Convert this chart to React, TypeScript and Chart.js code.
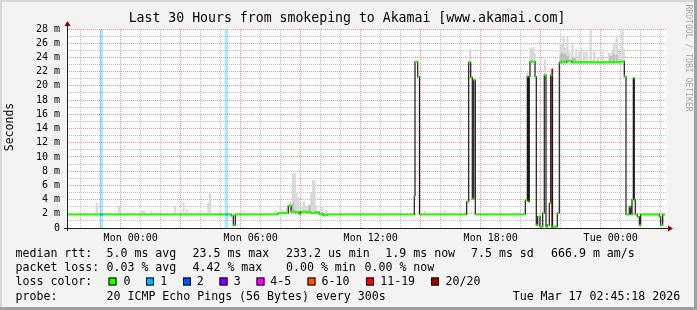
import { useEffect, useRef } from "react";
import { Chart, registerables } from "chart.js";

Chart.register(...registerables);

const TITLE = "Last 30 Hours from smokeping to Akamai [www.akamai.com]";
const Y_LABEL = "Seconds";
const WATERMARK = "RRDTOOL / TOBI OETIKER";

// hours relative to Mon 00:00
const X_MIN = -3.185;
const X_MAX = 26.815;
const xTickHours = [-3, -2, -1, 0, 1, 2, 3, 4, 5, 6, 7, 8, 9, 10, 11, 12, 13, 14, 15, 16, 17, 18, 19, 20, 21, 22, 23, 24, 25, 26];
const xTickLabels: Record<number, string> = { 0: "Mon 00:00", 6: "Mon 06:00", 12: "Mon 12:00", 18: "Mon 18:00", 24: "Tue 00:00" };
const yTicks = [0, 1, 2, 3, 4, 5, 6, 7, 8, 9, 10, 11, 12, 13, 14, 15, 16, 17, 18, 19, 20, 21, 22, 23, 24, 25, 26, 27, 28];

// median rtt (ms), as steps: value holds from its time until the next time
const medianTimes = [
  -3.185, -1.535, -1.4, 4.715, 4.85, 5.05, 5.13, 5.23, 7.365, 7.88, 8.015, 8.265, 8.415, 8.49, 8.815, 9.015, 9.215,
  9.415, 9.615, 9.815, 14.18, 14.215, 14.35, 14.44, 16.8, 16.9, 17.0, 17.08, 17.15, 17.23, 19.73, 19.83, 19.88, 19.93,
  19.965, 20.215, 20.28, 20.35, 20.465, 20.6, 20.68, 20.765, 20.83, 20.93, 21.0, 21.08, 21.33, 21.43, 21.8, 22.05,
  24.465, 24.68, 24.765, 24.93, 25.0, 25.065, 25.13, 25.18, 25.23, 25.33, 25.43, 25.5, 26.43, 26.5, 26.6,
];
const medianValues = [
  1.9, 1.9, 1.9, 1.9, 1.9, 1.7, 0.4, 1.9, 2.1, 3.1, 2.3, 2.2, 2.0, 2.3, 2.2, 2.1, 2.2,
  2.0, 1.8, 1.9, 4.5, 23.4, 21.3, 1.9, 3.7, 23.3, 21.2, 4.1, 20.8, 1.9, 3.9, 21.3, 3.7, 21.3,
  23.4, 21.3, 0.4, 1.6, 0.2, 2.1, 21.5, 0.2, 0.4, 3.5, 21.5, 0.2, 2.1, 23.3, 23.5, 23.3,
  23.4, 21.3, 1.9, 3.0, 1.9, 4.0, 21.1, 4.0, 1.9, 1.6, 0.4, 1.9, 1.6, 0.4, 1.9,
];
const medianLoss = [
  0, 1, 0, 1, 0, 0, 0, 0, 0, 0, 0, 0, 0, 0, 0, 0, 0,
  0, 0, 0, 0, 0, 0, 0, 0, 0, 0, 0, 0, 0, 0, 0, 0, 0,
  0, 0, 0, 0, 0, 0, 0, 0, 0, 0, 0, 0, 0, 0, 0, 0,
  0, 0, 0, 0, 0, 0, 0, 0, 0, 0, 0, 0, 0, 0, 0,
];
const medianEnd = 26.715;

// smoke (individual ping spread) tops, ms
const smokeTimes = [
  -2.54, -1.7, -0.59, 0.57, 0.67, 1.02, 2.22, 2.64, 2.82, 3.42, 3.89, 3.97, 5.64, 6.55, 7.24, 7.49, 7.63, 7.79, 7.97,
  8.05, 8.12, 8.2, 8.29, 8.39, 8.54, 8.67, 8.79, 8.92, 9.02, 9.12, 9.19, 9.27, 9.42, 9.57, 9.77, 10.02, 11.63, 12.37,
  12.47, 14.72, 15.72, 16.69, 16.97, 18.8, 19.84, 19.99, 20.07, 20.14, 20.2, 20.72, 21.04, 21.5, 21.57, 21.64, 21.71,
  21.77, 21.84, 21.94, 22.09, 22.26, 22.42, 22.52, 22.67, 22.8, 23.0, 23.17, 23.34, 23.59, 23.92, 24.07, 24.17, 24.3,
  24.42, 24.59, 24.66,
];
const smokeTops = [
  2.3, 3.5, 3.1, 2.4, 2.4, 2.3, 3.1, 3.5, 2.6, 2.2, 3.5, 4.9, 2.4, 2.0, 2.4, 2.9, 2.5, 2.8, 3.6,
  3.0, 7.6, 7.7, 4.9, 4.3, 3.0, 3.7, 3.0, 3.2, 4.9, 6.7, 6.6, 3.0, 2.4, 3.0, 2.5, 2.1, 2.2, 2.1,
  2.1, 2.4, 2.4, 2.3, 25.1, 2.0, 21.8, 25.3, 25.1, 25.4, 24.5, 23.7, 22.3, 26.0, 26.0, 27.0, 25.3,
  25.3, 26.8, 24.8, 26.0, 25.1, 24.8, 25.3, 24.8, 24.8, 28.5, 24.8, 24.0, 24.8, 24.6, 25.1, 26.0, 26.9,
  25.1, 28.5, 25.1,
];
const darkSmokeTimes = [7.97, 8.05, 8.12, 8.94, 21.5, 21.57, 21.64, 21.71, 21.84, 22.12, 22.2, 24.0, 24.15, 24.3];
const darkSmokeTops = [3.3, 3.0, 3.5, 3.2, 24.4, 24.6, 24.3, 24.5, 24.2, 24.0, 23.9, 24.2, 24.4, 24.3];

// loss bars
const lossBandTimes = [-1.47, 4.78];
const fullLossTimes = [21.08];
const fullLossTops = [22.4];

const lossColors = ["#26ff00", "#00b8ff", "#0059ff", "#7e00ff", "#ff00ff", "#ff5500", "#ff0000", "#a10000"];
const lossLabels = ["0", "1", "2", "3", "4-5", "6-10", "11-19", "20/20"];

const rttLegend = ["5.0 ms avg", "23.5 ms max", "233.2 us min", "1.9 ms now", "7.5 ms sd", "666.9 m am/s"];
const lossLegend = ["0.03 % avg", "4.42 % max", "0.00 % min", "0.00 % now"];
const probeText = "20 ICMP Echo Pings (56 Bytes) every 300s";
const stampText = "Tue Mar 17 02:45:18 2026";

const MONO = "'DejaVu Sans Mono', monospace";
const MAJOR = "rgba(230,110,110,0.75)";
const MINOR = "rgba(150,150,150,0.6)";

function medianAt(t: number): number {
  let v = medianValues[0];
  for (let i = 0; i < medianTimes.length; i++) {
    if (medianTimes[i] <= t) v = medianValues[i];
  }
  return v;
}

const decor = {
  id: "rrdDecor",
  beforeDraw(chart: any) {
    const { ctx, chartArea: a } = chart;
    const W = chart.width, H = chart.height;
    ctx.save();
    ctx.fillStyle = "#f3f3f3";
    ctx.fillRect(0, 0, W, H);
    ctx.fillStyle = "#d6d6d6";
    ctx.fillRect(0, 0, W, 2);
    ctx.fillRect(0, 0, 2, H);
    ctx.fillStyle = "#a0a0a0";
    ctx.fillRect(0, H - 3, W, 3);
    ctx.fillRect(W - 3, 0, 3, H);
    ctx.fillStyle = "#ffffff";
    ctx.fillRect(a.left, a.top, a.right - a.left, a.bottom - a.top);
    ctx.restore();
  },
  afterDraw(chart: any) {
    const { ctx, chartArea: a } = chart;
    ctx.save();
    // axes
    ctx.strokeStyle = "#202020";
    ctx.lineWidth = 1;
    ctx.beginPath();
    ctx.moveTo(a.left - 3, a.bottom + 0.5);
    ctx.lineTo(a.right + 2, a.bottom + 0.5);
    ctx.moveTo(a.left + 0.5, a.bottom + 3);
    ctx.lineTo(a.left + 0.5, a.top - 4);
    ctx.stroke();
    ctx.fillStyle = "#8b0000";
    ctx.beginPath();
    ctx.moveTo(a.left - 2.5, a.top - 3);
    ctx.lineTo(a.left + 3.5, a.top - 3);
    ctx.lineTo(a.left + 0.5, a.top - 8);
    ctx.closePath();
    ctx.fill();
    ctx.beginPath();
    ctx.moveTo(a.right + 1, a.bottom - 2.5);
    ctx.lineTo(a.right + 1, a.bottom + 3.5);
    ctx.lineTo(a.right + 6, a.bottom + 0.5);
    ctx.closePath();
    ctx.fill();

    // title
    ctx.fillStyle = "#000";
    ctx.font = `13.2px ${MONO}`;
    ctx.textAlign = "center";
    ctx.textBaseline = "middle";
    ctx.fillText(TITLE, 347, 19);

    // y label
    ctx.save();
    ctx.font = `11.5px ${MONO}`;
    ctx.translate(10.5, 127);
    ctx.rotate(-Math.PI / 2);
    ctx.fillText(Y_LABEL, 0, 0);
    ctx.restore();

    // watermark
    ctx.save();
    ctx.font = `8.1px ${MONO}`;
    ctx.fillStyle = "#a8a8a8";
    ctx.textAlign = "left";
    ctx.translate(688, 4.5);
    ctx.rotate(Math.PI / 2);
    ctx.fillText(WATERMARK, 0, 0);
    ctx.restore();

    // legend
    ctx.font = `11.6px ${MONO}`;
    ctx.textAlign = "left";
    ctx.fillStyle = "#000";
    const r1 = 254, r2 = 268, r3 = 282, r4 = 296.5;
    ctx.fillText("median rtt:", 15.5, r1);
    const rttX = [106.5, 192.5, 286, 385.3, 471, 551];
    rttLegend.forEach((s, i) => ctx.fillText(s, rttX[i], r1));
    ctx.fillText("packet loss:", 15.5, r2);
    const lossX = [106.5, 192.5, 286, 364.5];
    lossLegend.forEach((s, i) => ctx.fillText(s, lossX[i], r2));
    ctx.fillText("loss color:", 15.5, r3);
    const sqX = [108.5, 146, 183, 219.5, 256.5, 307.5, 366, 431];
    const lbX = [123.5, 160.2, 196.8, 233.8, 270.2, 321.5, 380.2, 445.5];
    lossColors.forEach((c, i) => {
      ctx.fillStyle = c;
      ctx.fillRect(sqX[i], r3 - 4.5, 8, 8);
      ctx.strokeStyle = "#000";
      ctx.lineWidth = 1;
      ctx.strokeRect(sqX[i] + 0.5, r3 - 4, 7, 7);
      ctx.fillStyle = "#000";
      ctx.fillText(lossLabels[i], lbX[i], r3);
    });
    ctx.fillText("probe:", 15.5, r4);
    ctx.fillText(probeText, 106.5, r4);
    ctx.fillText(stampText, 512.7, r4);
    ctx.restore();
  },
};

export default function App() {
  const ref = useRef<HTMLCanvasElement | null>(null);
  useEffect(() => {
    if (!ref.current) return;

    const stepPts: any[] = medianTimes.map((t, i) => ({ x: t, y: medianValues[i] }));
    stepPts.push({ x: medianEnd, y: medianValues[medianValues.length - 1] });

    const segPts: any[] = [];
    const segColors: string[] = [];
    medianTimes.forEach((t, i) => {
      const end = i + 1 < medianTimes.length ? medianTimes[i + 1] : medianEnd;
      const c = lossColors[medianLoss[i]];
      segPts.push({ x: t, y: medianValues[i] });
      segColors.push(c);
      segPts.push({ x: end, y: medianValues[i] });
      segColors.push(c);
      segPts.push({ x: end, y: null });
      segColors.push(c);
    });

    const chart = new Chart(ref.current, {
      type: "line",
      data: {
        datasets: [
          {
            type: "bar",
            data: lossBandTimes.map((t) => ({ x: t, y: [0, 28] })),
            backgroundColor: "rgba(0,184,255,0.32)",
            borderWidth: 0,
            barThickness: 2.7,
            grouped: false,
            order: 7,
          } as any,
          {
            type: "bar",
            data: smokeTimes.map((t, i) => ({ x: t, y: [medianAt(t), smokeTops[i]] })),
            backgroundColor: "#d9d9d9",
            borderWidth: 0,
            barThickness: 1.6,
            grouped: false,
            order: 6,
          } as any,
          {
            type: "bar",
            data: darkSmokeTimes.map((t, i) => ({ x: t, y: [medianAt(t), darkSmokeTops[i]] })),
            backgroundColor: "#bdbdbd",
            borderWidth: 0,
            barThickness: 1.6,
            grouped: false,
            order: 5,
          } as any,
          {
            type: "bar",
            data: fullLossTimes.map((t, i) => ({ x: t, y: [0, fullLossTops[i]] })),
            backgroundColor: "#a10000",
            borderWidth: 0,
            barThickness: 1,
            grouped: false,
            order: 4,
          } as any,
          {
            type: "line",
            data: stepPts,
            stepped: true,
            borderColor: "#1a1a1a",
            borderWidth: 1.2,
            pointRadius: 0,
            fill: false,
            order: 2,
          } as any,
          {
            type: "line",
            data: segPts,
            borderColor: "#26ff00",
            borderWidth: 2.2,
            pointRadius: 0,
            spanGaps: false,
            fill: false,
            segment: {
              borderColor: (c: any) => segColors[c.p0DataIndex],
            },
            order: 1,
          } as any,
        ],
      },
      options: {
        animation: false,
        responsive: false,
        devicePixelRatio: 1,
        events: [],
        layout: { padding: { left: 0, top: 29, right: 30, bottom: 52 } },
        plugins: { legend: { display: false }, tooltip: { enabled: false }, title: { display: false } },
        scales: {
          x: {
            type: "linear",
            min: X_MIN,
            max: X_MAX,
            offset: false,
            afterBuildTicks: (s: any) => {
              s.ticks = xTickHours.map((v) => ({ value: v }));
            },
            afterFit: (s: any) => {
              s.height = 30;
            },
            grid: {
              color: (c: any) => (c.tick && c.tick.value % 3 === 0 ? MAJOR : MINOR),
              drawTicks: false,
              lineWidth: 1,
            },
            border: { display: false, dash: [1, 1] },
            ticks: {
              autoSkip: false,
              maxRotation: 0,
              minRotation: 0,
              padding: 4,
              color: "#000",
              font: { family: MONO, size: 10 },
              callback: (v: any) => xTickLabels[v as number] ?? "",
            },
          },
          y: {
            type: "linear",
            min: 0,
            max: 28,
            afterBuildTicks: (s: any) => {
              s.ticks = yTicks.map((v) => ({ value: v }));
            },
            afterFit: (s: any) => {
              s.width = 67;
            },
            grid: {
              color: (c: any) => (c.tick && c.tick.value % 2 === 0 ? MAJOR : MINOR),
              drawTicks: false,
              lineWidth: 1,
            },
            border: { display: false, dash: [1, 1] },
            ticks: {
              autoSkip: false,
              padding: 7,
              color: "#000",
              font: { family: MONO, size: 10 },
              callback: (v: any) => (v === 0 ? "0" : (v as number) % 2 === 0 ? `${v} m` : ""),
            },
          },
        },
      } as any,
      plugins: [decor],
    });
    return () => chart.destroy();
  }, []);

  return (
    <div style={{ position: "fixed", left: 0, top: 0, width: 697, height: 310 }}>
      <canvas ref={ref} width={697} height={310} style={{ width: 697, height: 310, display: "block" }} />
    </div>
  );
}
